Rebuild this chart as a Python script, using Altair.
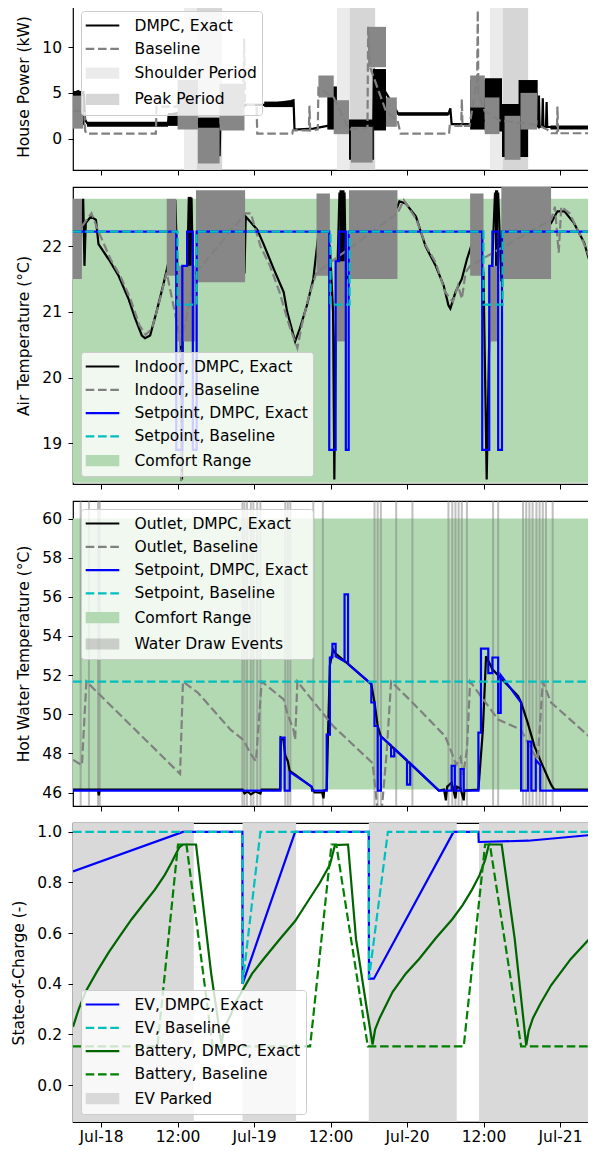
import json
import altair as alt
import pandas as pd

FONT = "DejaVu Sans"
FS = 15.5
W = 516
LW = 2.2
DASH = [8.6, 3.7]
SOLID = [1, 0]

BLACK = "#000000"
GRAY = "#808080"
BLOB_GRAY = "#878787"
BLUE = "#0000ff"
CYAN = "#00bfbf"
GREEN = "#008000"
DKGREEN = "#006400"
COMFORT = "#b3d9b3"
SHOULDER_C = "#ebebeb"
PEAK_C = "#d6d6d6"
PARKED_C = "#d9d9d9"
DRAW_C = "rgba(128,128,128,0.35)"

LINE_PATH = "M-2.1,0H2.1"
RECT_PATH = "M-2.1,-0.7H2.1V0.7H-2.1Z"

# ---------------- shared x axis (hours from Jul-18 00:00) ----------------
X_DOMAIN = [-4.4, 76.55]
TICK_HOURS = [0, 12, 24, 36, 48, 60, 72]
TICK_LABELS = ["Jul-18", "12:00", "Jul-19", "12:00", "Jul-20", "12:00", "Jul-21"]

# ---------------- panel 1: house power ----------------
P1_Y_DOMAIN = [-3.41, 14.8]
P1_Y_TICKS = [0, 5, 10]
SHOULDER = [(13, 15), (37, 39), (61, 63)]
PEAK = [(15, 19), (39, 43), (63, 67)]
P1_DMPC = [(-4.4, 4.9), (-3.6, 5.2), (-2.7, 4.8), (-2.5, 2.1), (-2.2, 1.7), (0, 1.6), (4, 1.5),
           (8, 1.5), (10.5, 1.6), (10.6, 2.6), (11.9, 2.8), (12.1, 1.6), (15.2, 1.6), (15.3, 2.0),
           (17.4, 2.0), (18.5, 1.5), (18.6, -1.9), (18.7, 1.5), (22.4, 3.5), (22.6, 3.7), (25.6, 3.7),
           (29.8, 4.1), (30.2, 4.2), (30.35, 1.0), (33.3, 1.1), (35.5, 1.4), (37.0, 1.5), (38.9, 1.5),
           (42.7, 1.5), (42.8, 7.6), (44.7, 5.0), (46.4, 3.0), (46.6, 2.7), (54.5, 2.7), (54.8, 3.3),
           (55.0, 1.6), (57.8, 1.6), (60.2, 2.0), (62.9, 1.5), (67.0, 2.5), (68.6, 1.3), (68.7, 4.7),
           (68.8, 1.3), (69.2, 1.3), (69.3, 4.4), (69.4, 1.3), (69.8, 1.3), (69.9, 4.0), (70.0, 1.3),
           (76.55, 1.2)]
P1_DMPC_BLOBS = [(-4.4, -2.6, 1.5, 5.2), (-2.2, 10.5, 1.3, 1.85), (10.5, 12.1, 1.4, 2.8),
                 (15.2, 18.6, 0.9, 2.3), (25.6, 30.2, 3.45, 4.05), (35.5, 37.0, 1.0, 5.7),
                 (38.9, 42.8, -2.3, 2.1), (42.8, 44.7, 0.9, 7.6), (46.6, 54.5, 2.5, 2.9),
                 (57.9, 60.2, 1.0, 6.4), (60.2, 62.9, 0.8, 6.6), (62.9, 67.0, -2.0, 3.8),
                 (65.5, 68.5, 2.0, 6.4), (70.5, 76.55, 1.0, 1.45)]
P1_BASE = [(-4.4, 3.0), (-2.6, 3.0), (-2.5, 0.9), (-2.3, 0.55), (8.6, 0.55), (8.7, 3.5), (12.0, 3.5),
           (12.1, 4.5), (22.3, 4.0), (22.45, 10.9), (22.6, 3.7), (24.4, 3.7), (24.5, 0.55), (30.0, 0.55),
           (30.1, 0.9), (32.6, 0.9), (32.7, 3.6), (32.8, 0.9), (34.0, 1.0), (34.1, 5.5), (36.5, 4.5),
           (38.9, 1.0), (41.8, 1.2), (41.9, 12.2), (42.2, 7.8), (44.7, 3.0), (46.5, 2.0), (47.0, 0.55),
           (54.6, 0.55), (54.7, 1.4), (56.5, 1.4), (56.6, 4.3), (56.7, 1.4), (57.8, 1.4), (59.0, 6.5),
           (59.1, 14.0), (59.2, 5.0), (60.2, 3.0), (62.5, 2.0), (68.4, 1.5), (70.0, 1.0), (70.6, 0.6),
           (71.5, 0.6), (71.6, 3.5), (71.7, 0.6), (76.55, 0.6)]
P1_BASE_BLOBS = [(-4.4, -2.8, 1.1, 4.7), (12.0, 15.2, 1.0, 6.4), (15.2, 18.6, -2.7, 1.2),
                 (18.6, 22.5, 0.9, 6.0), (34.1, 36.5, 4.5, 6.9), (36.5, 38.9, 0.5, 4.2),
                 (39.2, 42.6, -2.6, 1.3), (41.9, 44.7, 7.8, 12.2), (44.7, 46.4, 1.3, 4.5),
                 (57.9, 60.2, 3.4, 6.9), (60.2, 62.5, 0.5, 4.5), (63.3, 65.8, -2.3, 2.5),
                 (65.8, 68.4, 1.0, 5.0)]
P1_LEGEND = ["DMPC, Exact", "Baseline", "Shoulder Period", "Peak Period"]

# ---------------- panel 2: air temperature ----------------
P2_Y_DOMAIN = [18.38, 22.9]
P2_Y_TICKS = [19, 20, 21, 22]
P2_COMFORT = [(-4.4, 76.55, 18.4, 22.72)]
P2_IN_DMPC = [(-4.4, 22.2), (-3.3, 22.1), (-2.8, 22.72), (-2.6, 21.7), (-2.4, 22.35), (-1.6, 22.45),
              (-0.8, 22.4), (-0.4, 22.03), (1.2, 21.8), (2.75, 21.55), (4.3, 21.2), (5.35, 20.9),
              (6.4, 20.64), (6.9, 20.6), (7.7, 20.64), (8.7, 21.0), (9.74, 21.4), (10.8, 21.85),
              (11.3, 22.25), (11.65, 22.7), (12.0, 21.6), (12.5, 20.6), (12.7, 18.45), (12.8, 20.6),
              (13.5, 21.7), (13.8, 22.72), (14.2, 22.72), (14.4, 21.55), (14.9, 21.6), (22.5, 21.6),
              (22.7, 22.45), (24.5, 22.25), (25.5, 22.03), (27.1, 21.65), (28.65, 21.3), (29.2, 21.0),
              (30.45, 20.55), (31.2, 20.75), (32.3, 21.1), (33.3, 21.5), (34.0, 22.1), (35.9, 22.0),
              (36.4, 21.0), (36.6, 18.45), (36.8, 20.6), (37.4, 22.8), (38.2, 22.8), (38.4, 21.5),
              (38.9, 21.55), (46.5, 22.6), (46.8, 22.68), (47.8, 22.65), (49.4, 22.45), (50.9, 22.0),
              (52.5, 21.7), (53.75, 21.4), (54.5, 21.1), (54.8, 21.05), (55.6, 21.3), (56.6, 21.5),
              (57.4, 21.8), (58.0, 21.98), (60.0, 21.6), (60.5, 18.45), (60.9, 20.6), (61.8, 22.8),
              (62.3, 22.8), (62.8, 21.5), (70.6, 22.35), (71.6, 22.53), (72.7, 22.53), (74.2, 22.35),
              (75.8, 22.05), (76.55, 21.8)]
P2_IN_DMPC_BLOBS = [(13.6, 14.2, 21.6, 22.75), (37.4, 38.2, 21.5, 22.85), (61.8, 62.3, 21.5, 22.85)]
P2_IN_BASE = [(-3.0, 22.3), (-1.5, 22.5), (-0.3, 22.2), (1.5, 21.8), (3.0, 21.55), (4.6, 21.2),
              (6.0, 20.8), (7.0, 20.65), (8.0, 20.75), (9.0, 21.1), (10.3, 21.6), (12.4, 20.6),
              (12.55, 18.4), (12.7, 20.6), (14.9, 21.6), (22.7, 22.5), (23.5, 22.5), (25.0, 22.0),
              (26.5, 21.7), (28.0, 21.3), (29.5, 20.8), (30.8, 20.45), (31.5, 20.8), (32.5, 21.2),
              (33.8, 21.6), (46.5, 22.5), (47.5, 22.7), (49.5, 22.4), (51.0, 22.0), (52.5, 21.75),
              (54.0, 21.3), (55.2, 21.15), (56.0, 21.4), (56.6, 21.2), (57.2, 21.6), (57.9, 21.7),
              (70.6, 22.4), (71.2, 22.6), (71.8, 21.9), (72.2, 22.6), (73.5, 22.5), (75.5, 22.1),
              (76.55, 21.85)]
P2_IN_BASE_BLOBS = [(-4.4, -3.0, 21.5, 22.72), (10.3, 11.8, 21.55, 22.72), (12.0, 14.8, 20.55, 21.7),
                    (14.9, 22.6, 21.45, 22.85), (33.8, 35.9, 21.55, 22.8), (36.8, 38.4, 20.55, 21.77),
                    (38.9, 46.5, 21.5, 22.85), (57.9, 60.0, 21.55, 22.8), (60.85, 62.3, 20.55, 21.7),
                    (62.8, 70.6, 21.5, 22.9)]
P2_SET_DMPC = [(-4.4, 22.22), (11.8, 22.22), (11.8, 18.9), (12.75, 18.9), (12.75, 21.7), (13.5, 21.7),
               (13.5, 22.22), (14.4, 22.22), (14.4, 18.9), (15.0, 18.9), (15.0, 22.22), (35.8, 22.22),
               (35.8, 18.9), (36.8, 18.9), (36.8, 21.77), (37.35, 21.77), (37.35, 22.22), (38.4, 22.22),
               (38.4, 18.9), (38.85, 18.9), (38.85, 22.22), (59.8, 22.22), (59.8, 18.9), (60.9, 18.9),
               (60.9, 21.7), (61.4, 21.7), (61.4, 22.22), (62.3, 22.22), (62.3, 18.9), (62.9, 18.9),
               (62.9, 22.22), (76.55, 22.22)]
P2_SET_BASE = [(-4.4, 22.22), (12, 22.22), (12, 21.11), (15, 21.11), (15, 22.22), (36, 22.22),
               (36, 21.11), (39, 21.11), (39, 22.22), (60, 22.22), (60, 21.11), (63, 21.11),
               (63, 22.22), (76.55, 22.22)]
P2_LEGEND = ["Indoor, DMPC, Exact", "Indoor, Baseline", "Setpoint, DMPC, Exact", "Setpoint, Baseline",
             "Comfort Range"]

# ---------------- panel 3: hot water ----------------
P3_Y_DOMAIN = [45.31, 60.9]
P3_Y_TICKS = [46, 48, 50, 52, 54, 56, 58, 60]
P3_COMFORT = [(-4.4, 76.55, 46.15, 60.0)]
WATER_DRAWS = [-3.2, -1.9, -0.47, -0.2, 22.17, 22.5, 22.9, 23.5, 23.9, 24.5, 25.0, 28.9, 29.3, 29.7,
               33.3, 34.8, 42.9, 43.4, 43.9, 46.3, 48.85, 54.5, 55.1, 55.6, 56.1, 56.6, 57.4, 61.5,
               62.3, 66.2, 66.7, 67.2, 67.7, 68.3, 68.8, 69.3, 69.8, 70.85]
P3_OUT_DMPC = [(-4.4, 46.15), (-0.5, 46.15), (-0.35, 45.85), (-0.2, 46.15), (22.2, 46.15), (22.5, 45.95),
               (23.0, 46.05), (23.5, 45.9), (24.2, 46.05), (25.0, 45.95), (25.2, 46.15), (28.1, 46.15),
               (28.2, 48.8), (28.6, 48.7), (28.9, 47.9), (29.3, 47.6), (29.6, 47.1), (30.5, 46.9),
               (33.0, 46.3), (33.5, 46.0), (34.7, 46.0), (34.9, 45.7), (35.0, 46.1), (35.4, 46.15),
               (35.6, 48.9), (35.9, 52.5), (36.4, 53.3), (36.8, 53.1), (38.75, 52.57), (42.4, 51.54),
               (42.9, 50.6), (43.4, 49.4), (43.9, 48.87), (53.0, 46.1), (53.8, 46.15), (54.1, 45.6),
               (54.3, 46.3), (55.0, 46.5), (55.6, 45.7), (55.8, 46.3), (56.4, 46.2), (56.9, 45.6),
               (57.0, 46.1), (59.2, 46.15), (59.9, 49.2), (60.4, 52.96), (61.4, 52.3), (65.4, 50.94),
               (65.9, 50.6), (66.9, 49.6), (68.0, 48.36), (69.1, 47.5), (70.6, 46.4), (71.1, 46.15),
               (76.55, 46.15)]
P3_OUT_BASE = [(-4.4, 47.67), (-3.0, 47.4), (-2.3, 51.67), (12.4, 46.95), (12.85, 51.67), (15.2, 51.1),
               (20.35, 49.2), (22.4, 48.67), (23.4, 48.0), (24.3, 47.6), (25.2, 51.67), (28.65, 50.76),
               (29.2, 50.07), (30.2, 49.2), (30.45, 48.7), (30.8, 51.67), (36.4, 49.4), (42.6, 47.5),
               (43.0, 46.3), (43.4, 45.0), (44.0, 45.0), (44.8, 48.0), (45.5, 51.67), (48.85, 50.6),
               (54.0, 48.87), (55.05, 48.0), (55.7, 47.4), (56.4, 47.8), (56.8, 46.9), (57.4, 48.2),
               (57.9, 51.67), (62.3, 49.73), (65.9, 49.2), (67.5, 48.2), (68.5, 47.67), (69.3, 51.67),
               (70.6, 50.6), (76.55, 48.87)]
P3_SET_DMPC = [(-4.4, 46.1), (28.15, 46.1), (28.15, 48.8), (28.8, 48.8), (28.8, 46.1), (29.6, 46.1),
               (29.6, 47.05), (33.05, 46.3), (33.1, 46.1), (35.4, 46.1), (35.4, 48.96), (35.9, 48.96),
               (35.9, 52.9), (36.3, 52.9), (36.3, 53.6), (36.8, 53.6), (36.8, 52.96), (38.2, 52.7),
               (38.2, 56.13), (38.75, 56.13), (38.75, 52.57), (42.4, 51.54), (42.4, 50.6), (42.9, 50.6),
               (42.9, 49.4), (43.4, 49.4), (43.4, 46.1), (43.9, 46.1), (43.9, 48.87), (45.5, 48.4),
               (45.5, 47.85), (46.0, 47.85), (46.0, 48.25), (48.0, 47.65), (48.0, 46.4), (48.5, 46.4),
               (48.5, 47.5), (53.0, 46.1), (55.0, 46.1), (55.0, 47.36), (55.5, 47.36), (55.5, 46.1),
               (56.4, 46.1), (56.4, 47.2), (56.9, 47.2), (56.9, 46.1), (59.2, 46.1), (59.2, 49.06),
               (59.6, 49.06), (59.6, 53.35), (60.75, 53.35), (60.75, 52.1), (61.4, 52.1), (61.4, 52.9),
               (62.3, 52.9), (62.3, 50.07), (62.7, 50.07), (62.7, 52.0), (65.9, 50.6), (65.9, 46.1),
               (67.0, 46.1), (67.0, 48.6), (67.5, 48.6), (67.5, 46.1), (68.2, 46.1), (68.2, 47.66),
               (68.9, 47.4), (68.9, 46.1), (76.55, 46.1)]
P3_SET_BASE = [(-4.4, 51.67), (76.55, 51.67)]
P3_LEGEND = ["Outlet, DMPC, Exact", "Outlet, Baseline", "Setpoint, DMPC, Exact", "Setpoint, Baseline",
             "Comfort Range", "Water Draw Events"]

# ---------------- panel 4: state of charge ----------------
P4_Y_DOMAIN = [-0.146, 1.035]
P4_Y_TICKS = [0.0, 0.2, 0.4, 0.6, 0.8, 1.0]
EV_PARKED = [(-4.4, 14.55), (22.2, 30.6), (42.0, 55.8), (59.3, 76.55)]
EV_DMPC = [(-4.4, 0.844), (12.85, 1.0), (22.17, 1.0), (22.2, 0.40), (30.45, 1.0), (42.0, 1.0),
           (42.03, 0.42), (42.8, 0.42), (55.3, 1.0), (59.2, 1.0), (59.25, 0.96), (67.0, 0.965),
           (76.55, 0.987)]
EV_BASE = [(-4.4, 1.0), (22.17, 1.0), (22.2, 0.40), (25.0, 1.0), (42.0, 1.0), (42.03, 0.42),
           (45.0, 1.0), (76.55, 1.0)]
BATT_DMPC = [(-4.4, 0.23), (-3.5, 0.30), (-2.4, 0.37), (-0.6, 0.45), (1.2, 0.524), (3.0, 0.59),
             (4.8, 0.655), (6.6, 0.713), (8.45, 0.772), (10.0, 0.83), (11.0, 0.876), (12.3, 0.94),
             (12.85, 0.95), (14.9, 0.95), (17.25, 0.446), (18.9, 0.16), (19.2, 0.21), (19.7, 0.245),
             (20.3, 0.275), (21.2, 0.33), (22.1, 0.37), (23.7, 0.44), (25.5, 0.498), (28.0, 0.575),
             (30.45, 0.648), (32.3, 0.72), (34.3, 0.798), (35.9, 0.87), (36.7, 0.948), (38.75, 0.95),
             (40.0, 0.576), (41.6, 0.316), (42.6, 0.16), (43.0, 0.22), (43.7, 0.264), (44.6, 0.31),
             (45.75, 0.368), (47.8, 0.44), (49.9, 0.498), (52.5, 0.58), (55.1, 0.655), (56.7, 0.71),
             (58.2, 0.772), (59.4, 0.83), (60.25, 0.889), (60.85, 0.95), (62.85, 0.95), (64.9, 0.576),
             (66.7, 0.157), (67.1, 0.215), (67.75, 0.264), (68.9, 0.32), (70.6, 0.394), (73.7, 0.498),
             (76.55, 0.576)]
BATT_BASE = [(-4.4, 0.153), (8.85, 0.153), (12.07, 0.95), (13.4, 0.95), (17.5, 0.153), (32.8, 0.153),
             (36.15, 0.95), (36.9, 0.95), (41.85, 0.153), (56.9, 0.153), (60.25, 0.95), (61.0, 0.95),
             (65.9, 0.153), (76.55, 0.153)]
P4_LEGEND = ["EV, DMPC, Exact", "EV, Baseline", "Battery, DMPC, Exact", "Battery, Baseline", "EV Parked"]

LABEL_EXPR = f"{json.dumps(TICK_LABELS)}[indexof({json.dumps(TICK_HOURS)}, datum.value)]"


def make_xe(labels):
    def xe(field):
        return alt.X(f"{field}:Q", scale=alt.Scale(domain=X_DOMAIN, nice=False, zero=False),
                     axis=alt.Axis(values=TICK_HOURS, labels=labels, labelExpr=LABEL_EXPR, title=None,
                                   grid=False, domain=False, ticks=True, tickSize=5, tickColor="black",
                                   tickWidth=1, labelFont=FONT, labelFontSize=FS, labelColor="black",
                                   labelPadding=2, labelOverlap=False, labelFlush=False))
    return xe


def make_ye(domain, ticks, title, fmt):
    def ye(field):
        return alt.Y(f"{field}:Q", scale=alt.Scale(domain=domain, nice=False, zero=False),
                     axis=alt.Axis(values=ticks, format=fmt, title=title, grid=False, domain=False,
                                   tickSize=5, tickColor="black", tickWidth=1, labelFont=FONT,
                                   labelFontSize=FS, labelColor="black", labelPadding=6.5,
                                   labelFlush=False, titleFont=FONT, titleFontSize=FS,
                                   titleFontWeight="normal", titleColor="black", titlePadding=10))
    return ye


def line(points, color, xe, ye, dash=None, width=LW):
    df = pd.DataFrame({"t": [p[0] for p in points], "v": [p[1] for p in points],
                       "i": list(range(len(points)))})
    kw = dict(color=color, strokeWidth=width, clip=True)
    if dash:
        kw["strokeDash"] = dash
    return alt.Chart(df).mark_line(**kw).encode(x=xe("t"), y=ye("v"), order="i:Q")


def blobs(items, color, xe, ye, opacity=1.0):
    df = pd.DataFrame({"t0": [b[0] for b in items], "t1": [b[1] for b in items],
                       "lo": [b[2] for b in items], "hi": [b[3] for b in items]})
    return alt.Chart(df).mark_rect(color=color, opacity=opacity, clip=True).encode(
        x=xe("t0"), x2="t1:Q", y=ye("lo"), y2="hi:Q")


def bands(items, color, xe):
    df = pd.DataFrame({"t0": [b[0] for b in items], "t1": [b[1] for b in items]})
    return alt.Chart(df).mark_rect(color=color, clip=True).encode(x=xe("t0"), x2="t1:Q")


def rules(times, xe):
    df = pd.DataFrame({"t": times})
    return alt.Chart(df).mark_rule(color=GRAY, opacity=0.5, strokeWidth=2, clip=True).encode(x=xe("t"))


def legend_layer(key, names, strokes, fills, shapes, dashes, orient):
    lg = alt.Legend(title=None, orient=orient, offset=8, padding=5, fillColor="rgba(255,255,255,0.8)",
                    strokeColor="#cccccc", cornerRadius=3, labelFont=FONT, labelFontSize=FS,
                    labelColor="black", labelLimit=400, symbolSize=256, symbolStrokeWidth=LW,
                    symbolOffset=7, labelOffset=22.5, rowPadding=5.3, symbolOpacity=1)
    df = pd.DataFrame({key: pd.Series([], dtype="object")})
    return alt.Chart(df).mark_point(size=256, filled=True, opacity=1).encode(
        stroke=alt.Stroke(f"{key}:N", scale=alt.Scale(domain=names, range=strokes), legend=lg),
        fill=alt.Fill(f"{key}:N", scale=alt.Scale(domain=names, range=fills), legend=lg),
        shape=alt.Shape(f"{key}:N", scale=alt.Scale(domain=names, range=shapes), legend=lg),
        strokeDash=alt.StrokeDash(f"{key}:N", scale=alt.Scale(domain=names, range=dashes), legend=lg),
    )


T = "transparent"

# panel 1
xe1 = make_xe(False)
ye1 = make_ye(P1_Y_DOMAIN, P1_Y_TICKS, "House Power (kW)", "d")
p1 = alt.layer(
    bands(SHOULDER, SHOULDER_C, xe1),
    bands(PEAK, PEAK_C, xe1),
    blobs(P1_DMPC_BLOBS, BLACK, xe1, ye1),
    line(P1_DMPC, BLACK, xe1, ye1),
    blobs(P1_BASE_BLOBS, BLOB_GRAY, xe1, ye1),
    line(P1_BASE, GRAY, xe1, ye1, dash=DASH),
    legend_layer("s1", P1_LEGEND, [BLACK, GRAY, T, T], [T, T, SHOULDER_C, PEAK_C],
                 [LINE_PATH, LINE_PATH, RECT_PATH, RECT_PATH], [SOLID, DASH, SOLID, SOLID], "top-left"),
).properties(width=W, height=167)

# panel 2
xe2 = make_xe(False)
ye2 = make_ye(P2_Y_DOMAIN, P2_Y_TICKS, "Air Temperature (°C)", "d")
p2 = alt.layer(
    blobs(P2_COMFORT, COMFORT, xe2, ye2),
    line(P2_IN_DMPC, BLACK, xe2, ye2),
    blobs(P2_IN_DMPC_BLOBS, BLACK, xe2, ye2),
    blobs(P2_IN_BASE_BLOBS, BLOB_GRAY, xe2, ye2),
    line(P2_IN_BASE, GRAY, xe2, ye2, dash=DASH),
    line(P2_SET_DMPC, BLUE, xe2, ye2),
    line(P2_SET_BASE, CYAN, xe2, ye2, dash=DASH),
    legend_layer("s2", P2_LEGEND, [BLACK, GRAY, BLUE, CYAN, T], [T, T, T, T, COMFORT],
                 [LINE_PATH] * 4 + [RECT_PATH], [SOLID, DASH, SOLID, DASH, SOLID], "bottom-left"),
).properties(width=W, height=297)

# panel 3
xe3 = make_xe(False)
ye3 = make_ye(P3_Y_DOMAIN, P3_Y_TICKS, "Hot Water Temperature (°C)", "d")
p3 = alt.layer(
    blobs(P3_COMFORT, COMFORT, xe3, ye3),
    rules(WATER_DRAWS, xe3),
    line(P3_OUT_DMPC, BLACK, xe3, ye3),
    line(P3_OUT_BASE, GRAY, xe3, ye3, dash=DASH),
    line(P3_SET_DMPC, BLUE, xe3, ye3),
    line(P3_SET_BASE, CYAN, xe3, ye3, dash=DASH),
    legend_layer("s3", P3_LEGEND, [BLACK, GRAY, BLUE, CYAN, T, T], [T, T, T, T, COMFORT, DRAW_C],
                 [LINE_PATH] * 4 + [RECT_PATH] * 2, [SOLID, DASH, SOLID, DASH, SOLID, SOLID], "top-left"),
).properties(width=W, height=305)

# panel 4
xe4 = make_xe(True)
ye4 = make_ye(P4_Y_DOMAIN, P4_Y_TICKS, "State-of-Charge (-)", ".1f")
p4 = alt.layer(
    bands(EV_PARKED, PARKED_C, xe4),
    line(EV_DMPC, BLUE, xe4, ye4),
    line(EV_BASE, CYAN, xe4, ye4, dash=DASH),
    line(BATT_DMPC, DKGREEN, xe4, ye4),
    line(BATT_BASE, GREEN, xe4, ye4, dash=DASH),
    legend_layer("s4", P4_LEGEND, [BLUE, CYAN, DKGREEN, GREEN, T], [T, T, T, T, PARKED_C],
                 [LINE_PATH] * 4 + [RECT_PATH], [SOLID, DASH, SOLID, DASH, SOLID], "bottom-left"),
).properties(width=W, height=299)

IND = dict(stroke="independent", fill="independent", shape="independent", strokeDash="independent")

chart = alt.vconcat(p1, p2, p3, p4, spacing=17, bounds="flush").resolve_scale(
    **IND
).resolve_legend(**IND).properties(
    padding={"left": 3, "top": -6, "right": -2.5, "bottom": 0}
).configure_view(stroke="black", strokeWidth=1.2)

chart.save("out.html", embed_options={"renderer": "svg", "actions": False})
